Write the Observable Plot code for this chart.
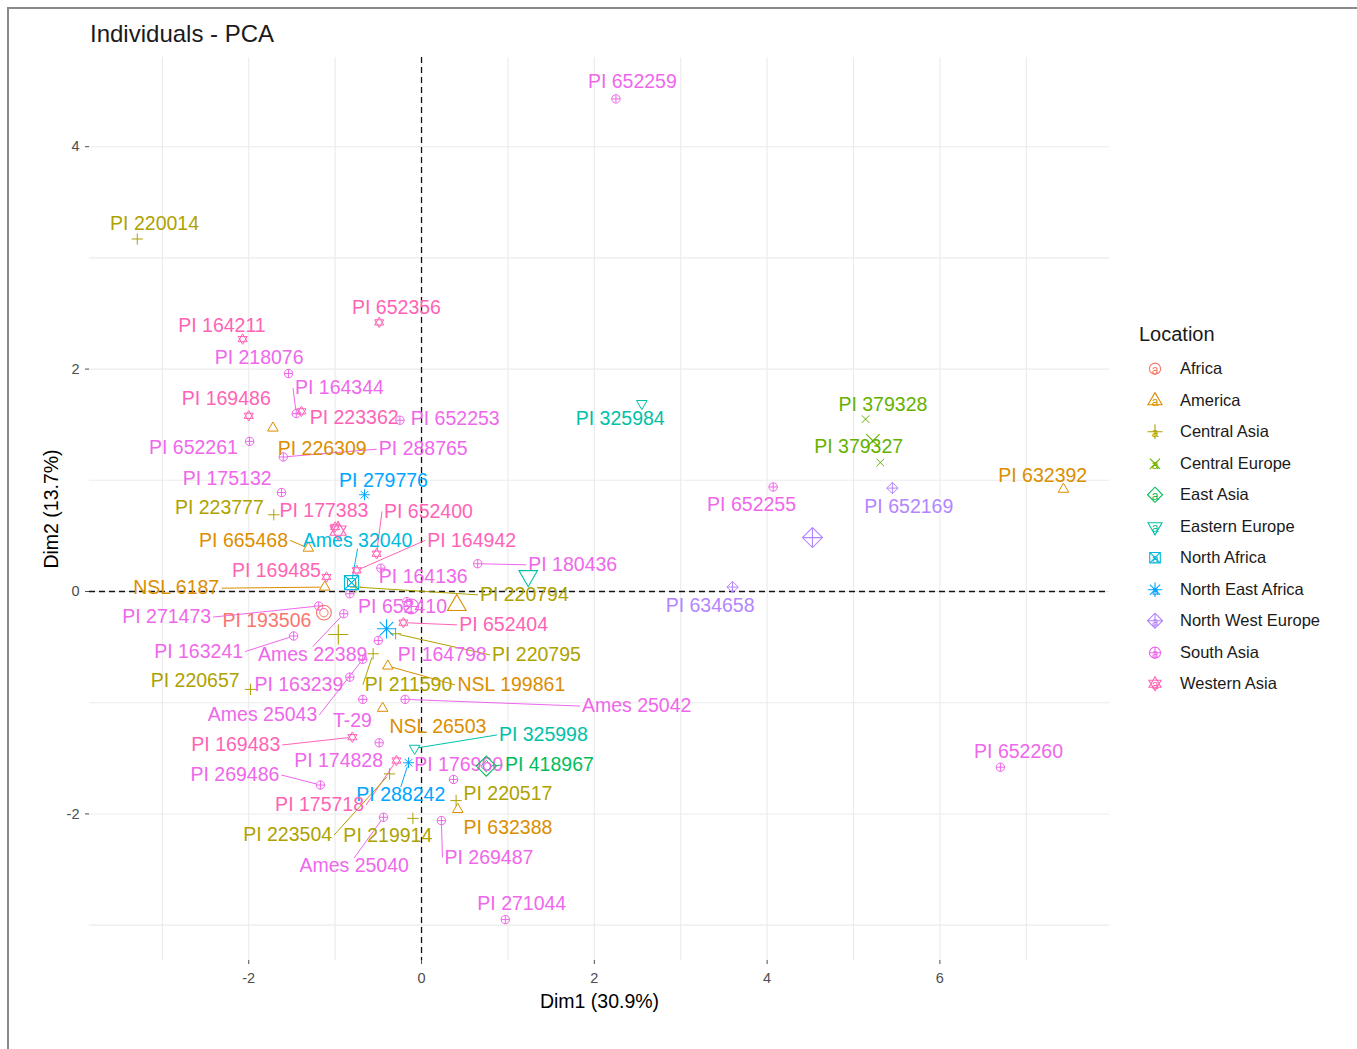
<!DOCTYPE html>
<html>
<head>
<meta charset="utf-8">
<title>Individuals - PCA</title>
<script src="https://cdn.jsdelivr.net/npm/d3@7"></script>
<script src="https://cdn.jsdelivr.net/npm/@observablehq/plot@0.6"></script>
<style>
  html, body { margin: 0; padding: 0; background: #fff; }
  body { width: 1357px; height: 1049px; position: relative; overflow: hidden;
         font-family: "Liberation Sans", Arial, sans-serif; }
  #frame { position: absolute; left: 7px; top: 7px; width: 1370px; height: 1060px;
           border-left: 2px solid #8a8a8a; border-top: 2px solid #8a8a8a; }
  #chart { position: absolute; left: 0; top: 0; }
  #title { position: absolute; left: 90px; top: 20px; font-size: 24px; color: #1a1a1a; white-space: nowrap; }
  #legend { position: absolute; left: 1139px; top: 322px; color: #1a1a1a; }
  #legend .ltitle { font-size: 20px; line-height: 24px; height: 31px; }
  #legend .row { display: flex; align-items: center; height: 31.5px; }
  #legend .row svg { display: block; }
  #legend .row span { margin-left: 9px; font-size: 16.5px; white-space: nowrap; }
</style>
</head>
<body>
<div id="frame"></div>
<div id="chart"></div>
<div id="title">Individuals - PCA</div>
<div id="legend"></div>
<script>
// ---- Data: PCA individual coordinates (Dim1, Dim2) by accession ----
const locations = ["Africa", "America", "Central Asia", "Central Europe", "East Asia", "Eastern Europe",
  "North Africa", "North East Africa", "North West Europe", "South Asia", "Western Asia"];

const accession = ["PI 652259","PI 220014","PI 652356","PI 164211","PI 218076","PI 164344","PI 169486",
  "PI 223362","PI 652253","PI 652261","PI 226309","PI 288765","PI 175132","PI 279776","PI 223777",
  "PI 177383","PI 652400","PI 665468","Ames 32040","PI 164942","PI 180436","PI 169485","PI 164136",
  "NSL 6187","PI 220794","PI 652410","PI 271473","PI 193506","PI 652404","PI 163241","Ames 22389",
  "PI 164798","PI 220795","PI 220657","PI 163239","PI 211590","NSL 199861","Ames 25042","Ames 25043",
  "T-29","NSL 26503","PI 325998","PI 169483","PI 174828","PI 176960","PI 418967","PI 269486",
  "PI 288242","PI 220517","PI 175718","PI 632388","PI 223504","PI 219914","PI 269487","Ames 25040",
  "PI 271044","PI 325984","PI 379328","PI 379327","PI 632392","PI 652255","PI 652169","PI 634658",
  "PI 652260",""];

const accessionLocation = ["South Asia","Central Asia","Western Asia","Western Asia","South Asia",
  "South Asia","Western Asia","Western Asia","South Asia","South Asia","America","South Asia",
  "South Asia","North East Africa","Central Asia","Western Asia","Western Asia","America",
  "North Africa","Western Asia","South Asia","Western Asia","South Asia","America","Central Asia",
  "South Asia","South Asia","Africa","Western Asia","South Asia","South Asia","South Asia",
  "Central Asia","Central Asia","South Asia","Central Asia","America","South Asia","South Asia",
  "South Asia","America","Eastern Europe","Western Asia","South Asia","South Asia","East Asia",
  "South Asia","North East Africa","Central Asia","Western Asia","America","Central Asia",
  "Central Asia","South Asia","South Asia","South Asia","Eastern Europe","Central Europe",
  "Central Europe","America","South Asia","North West Europe","North West Europe","South Asia",
  "South Asia"];

const dim1 = [2.25,-3.29,-0.49,-2.07,-1.54,-1.45,-2.00,-1.39,-0.25,-1.99,-1.72,-1.60,-1.62,-0.66,-1.71,
  -1.00,-0.52,-1.31,-0.81,-0.75,0.65,-1.10,-0.47,-1.12,-0.76,-0.17,-1.19,-1.13,-0.21,-1.48,-0.90,
  -0.50,-0.30,-1.98,-0.83,-0.56,-0.39,-0.19,-0.68,-0.68,-0.45,-0.08,-0.80,-0.49,0.37,0.75,-1.17,
  -0.15,0.40,-0.29,0.42,-0.37,-0.10,0.23,-0.44,0.97,2.55,5.14,5.31,7.43,4.07,5.45,3.60,6.70,-0.83];

const dim2 = [4.43,3.17,2.42,2.27,1.96,1.60,1.58,1.62,1.54,1.35,1.47,1.21,0.89,0.87,0.69,
  0.58,0.34,0.39,0.08,0.19,0.25,0.13,0.21,0.04,0.04,-0.09,-0.13,-0.19,-0.28,-0.40,-0.20,
  -0.44,-0.38,-0.88,-0.77,-0.56,-0.67,-0.97,-0.61,-0.97,-1.05,-1.41,-1.31,-1.36,-1.69,-1.57,-1.74,
  -1.54,-1.88,-1.52,-1.96,-1.64,-2.04,-2.06,-2.03,-2.95,1.69,1.55,1.16,0.92,0.94,0.93,0.04,-1.58,-0.02];

// Repelled label placement (centre of each label, in Dim1/Dim2 units)
const labelDim1 = [2.44,-3.09,-0.29,-2.31,-1.88,-0.95,-2.26,-0.78,0.39,-2.64,-1.15,0.02,-2.25,-0.44,-2.34,
  -1.13,0.08,-2.06,-0.74,0.58,1.75,-1.68,0.02,-2.84,1.19,-0.22,-2.95,-1.79,0.95,-2.58,-1.26,
  0.24,1.33,-2.62,-1.42,-0.15,1.04,2.49,-1.84,-0.80,0.19,1.41,-2.15,-0.96,0.43,1.48,-2.16,
  -0.24,1.00,-1.18,1.00,-1.55,-0.39,0.78,-0.78,1.16,2.30,5.34,5.06,7.19,3.82,5.64,3.34,6.91,null];

const labelDim2 = [4.58,3.31,2.55,2.39,2.10,1.83,1.73,1.56,1.55,1.29,1.28,1.28,1.01,1.00,0.75,
  0.73,0.72,0.46,0.46,0.46,0.24,0.19,0.13,0.03,-0.03,-0.14,-0.23,-0.26,-0.30,-0.54,-0.57,
  -0.57,-0.57,-0.80,-0.84,-0.84,-0.84,-1.03,-1.11,-1.16,-1.22,-1.29,-1.38,-1.52,-1.56,-1.56,-1.65,
  -1.83,-1.82,-1.92,-2.12,-2.19,-2.20,-2.39,-2.47,-2.81,1.55,1.68,1.30,1.04,0.78,0.76,-0.13,-1.44,null];

// Labels pushed far enough from their point to get a connecting segment
const leaderNames = ["PI 164344","PI 288765","PI 665468","Ames 32040","PI 652400","PI 164942",
  "PI 180436","NSL 6187","PI 220794","PI 271473","PI 652404","PI 163241","Ames 22389","PI 220795",
  "NSL 199861","PI 211590","Ames 25043","Ames 25042","PI 325998","PI 169483","PI 269486",
  "PI 288242","PI 418967","PI 223504","PI 175718","Ames 25040","PI 269487"];

// ---- Appearance ----
const palette = ["#F8766D","#DB8E00","#AEA200","#64B200","#00BD5C","#00C1A7","#00BADE","#00A6FF",
  "#B385FF","#EF67EB","#FF63B6"];
const FONT = '"Liberation Sans", Arial, sans-serif';
const LABEL_SIZE = 19.5;
const W = 1357, H = 1049;
const margin = {top: 57, right: 248, bottom: 89, left: 89};
const xDomain = [-3.843, 7.963];
const yDomain = [-3.318, 4.802];

// Open (stroked) point shapes in the style of R's pch 1..11
const cross = (c, a) => { c.moveTo(-a, 0); c.lineTo(a, 0); c.moveTo(0, -a); c.lineTo(0, a); };
const saltire = (c, a) => { c.moveTo(-a, -a); c.lineTo(a, a); c.moveTo(-a, a); c.lineTo(a, -a); };
const ring = (c, r) => { c.moveTo(r, 0); c.arc(0, 0, r, 0, 2 * Math.PI); };
const triangle = (c, R, dir) => {
  c.moveTo(0, -dir * R); c.lineTo(R * 0.866, dir * R * 0.5); c.lineTo(-R * 0.866, dir * R * 0.5); c.closePath();
};
const rhombus = (c, a) => { c.moveTo(0, -a); c.lineTo(a, 0); c.lineTo(0, a); c.lineTo(-a, 0); c.closePath(); };
const shape = (fn) => ({draw(context, size) { fn(context, Math.sqrt(size / Math.PI)); }});
const shapeOf = {
  "Africa": shape((c, r) => ring(c, r)),
  "America": shape((c, r) => triangle(c, r * 1.45, 1)),
  "Central Asia": shape((c, r) => cross(c, r * 1.35)),
  "Central Europe": shape((c, r) => saltire(c, r * 0.9)),
  "East Asia": shape((c, r) => rhombus(c, r * 1.35)),
  "Eastern Europe": shape((c, r) => triangle(c, r * 1.45, -1)),
  "North Africa": shape((c, r) => { const a = r * 0.95; c.moveTo(-a, -a); c.lineTo(a, -a); c.lineTo(a, a); c.lineTo(-a, a); c.closePath(); saltire(c, a); }),
  "North East Africa": shape((c, r) => { cross(c, r * 1.3); saltire(c, r * 0.92); }),
  "North West Europe": shape((c, r) => { rhombus(c, r * 1.35); cross(c, r * 1.35); }),
  "South Asia": shape((c, r) => { ring(c, r); cross(c, r); }),
  "Western Asia": shape((c, r) => { triangle(c, r * 1.25, 1); triangle(c, r * 1.25, -1); })
};

// ---- Derived tables ----
const rows = accession.map((name, i) => ({
  name, location: accessionLocation[i], x: dim1[i], y: dim2[i], lx: labelDim1[i], ly: labelDim2[i]
}));
const labeled = rows.filter(d => d.name !== "");
const centroids = locations.map(loc => {
  const g = rows.filter(d => d.location === loc);
  return {location: loc, x: d3.mean(g, d => d.x), y: d3.mean(g, d => d.y)};
});

// Segments run from the nearest edge midpoint of a label to its point
const sx = Plot.scale({x: {domain: xDomain, range: [margin.left, W - margin.right]}});
const sy = Plot.scale({y: {domain: yDomain, range: [H - margin.bottom, margin.top]}});
const measure = document.createElement("canvas").getContext("2d");
measure.font = `${LABEL_SIZE}px ${FONT}`;
const leaders = labeled.filter(d => leaderNames.includes(d.name)).map(d => {
  const cx = sx.apply(d.lx), cy = sy.apply(d.ly);
  const hw = measure.measureText(d.name).width / 2 + 2, hh = LABEL_SIZE * 0.42;
  const px = sx.apply(d.x), py = sy.apply(d.y);
  const ends = [[cx - hw, cy], [cx + hw, cy], [cx, cy - hh], [cx, cy + hh]];
  const [ax, ay] = d3.least(ends, ([a, b]) => Math.hypot(a - px, b - py));
  const len = Math.hypot(ax - px, ay - py);
  const k = Math.max(0, (len - 4) / len);
  return {location: d.location, x1: sx.invert(ax), y1: sy.invert(ay),
          x2: sx.invert(ax + (px - ax) * k), y2: sy.invert(ay + (py - ay) * k)};
});

const gridStyle = {stroke: "#ebebeb", strokeOpacity: 1, strokeWidth: 1.1};
const plainNumber = d => String(d);

const chart = Plot.plot({
  width: W, height: H,
  marginTop: margin.top, marginRight: margin.right, marginBottom: margin.bottom, marginLeft: margin.left,
  x: {domain: xDomain}, y: {domain: yDomain},
  color: {domain: locations, range: palette},
  style: {fontFamily: FONT, fontSize: "14.5px", background: "transparent", overflow: "visible"},
  marks: [
    Plot.gridX([-3, -1, 1, 3, 5, 7], gridStyle),
    Plot.gridX([-2, 0, 2, 4, 6], gridStyle),
    Plot.gridY([-3, -1, 1, 3], gridStyle),
    Plot.gridY([-2, 0, 2, 4], gridStyle),
    Plot.ruleX([0], {stroke: "#111", strokeWidth: 1.3, strokeDasharray: "6,4"}),
    Plot.ruleY([0], {stroke: "#111", strokeWidth: 1.3, strokeDasharray: "6,4"}),
    Plot.link(leaders, {x1: "x1", y1: "y1", x2: "x2", y2: "y2", stroke: "location", strokeWidth: 1}),
    ...locations.map(loc => Plot.dot(rows.filter(d => d.location === loc),
      {x: "x", y: "y", r: 4.2, symbol: shapeOf[loc], stroke: "location", fill: "none", strokeWidth: 1})),
    Plot.text(labeled, {x: "lx", y: "ly", text: "name", fill: "location", fontSize: LABEL_SIZE,
      fontFamily: FONT, textAnchor: "middle", lineAnchor: "middle"}),
    ...locations.map(loc => Plot.dot(centroids.filter(d => d.location === loc),
      {x: "x", y: "y", r: 7.4, symbol: shapeOf[loc], stroke: "location", fill: "none", strokeWidth: 1.1})),
    Plot.axisX({ticks: [-2, 0, 2, 4, 6], tickFormat: plainNumber, tickSize: 4, tickPadding: 8,
      color: "#4d4d4d", label: null}),
    Plot.axisY({ticks: [-2, 0, 2, 4], tickFormat: plainNumber, tickSize: 4, tickPadding: 6,
      color: "#4d4d4d", label: null}),
    Plot.text(["Dim1 (30.9%)"], {text: d => d, frameAnchor: "bottom", textAnchor: "middle",
      dy: 47, fontSize: 19.5, fill: "#000"}),
    Plot.text(["Dim2 (13.7%)"], {text: d => d, frameAnchor: "left", textAnchor: "middle",
      dx: -38, rotate: -90, fontSize: 19.5, fill: "#000"})
  ]
});
document.getElementById("chart").append(chart);

// ---- Legend ----
const legend = d3.select("#legend");
legend.append("div").attr("class", "ltitle").text("Location");
locations.forEach((loc, i) => {
  const row = legend.append("div").attr("class", "row");
  const svg = row.append("svg").attr("width", 32).attr("height", 31.5);
  const p = d3.path();
  shapeOf[loc].draw(p, 5.6 * 5.6 * Math.PI);
  svg.append("path").attr("d", p.toString()).attr("transform", "translate(16,15.75)")
    .attr("fill", "none").attr("stroke", palette[i]).attr("stroke-width", 1.1);
  svg.append("text").attr("x", 16).attr("y", 20.5).attr("text-anchor", "middle")
    .attr("font-size", 12).attr("font-family", FONT).attr("fill", palette[i]).text("a");
  row.append("span").text(loc);
});
</script>
</body>
</html>
